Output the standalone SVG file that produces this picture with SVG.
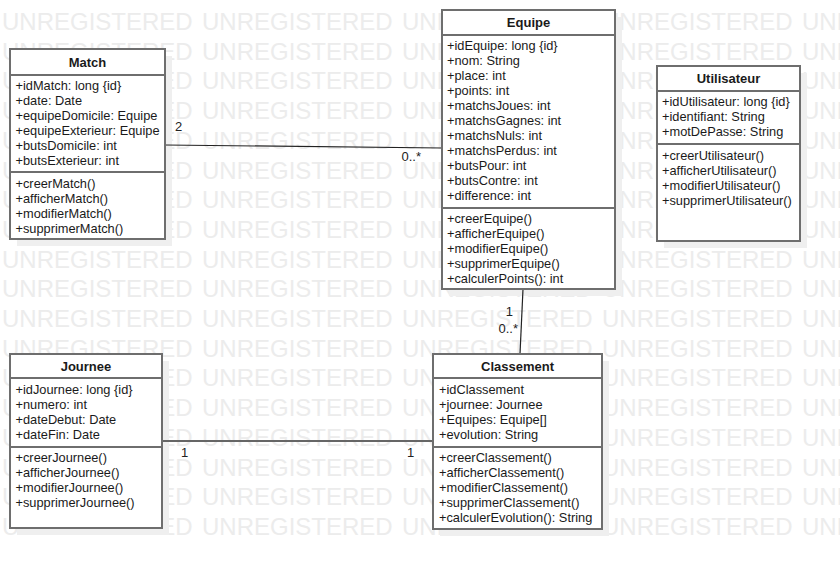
<svg xmlns="http://www.w3.org/2000/svg" width="840" height="569" viewBox="0 0 840 569">
<style>
.wm{font-family:"Liberation Sans",Arial,sans-serif;font-size:24px;fill:#ececec}
.sh{fill:#efefef;stroke:none}
.box{fill:#ffffff;stroke:#6e6e6e;stroke-width:2}
.sep{stroke:#6e6e6e;stroke-width:2}
.t{font-family:"Liberation Sans",Arial,sans-serif;font-size:13px;font-weight:bold;fill:#1a1a1a;text-anchor:middle}
.a{font-family:"Liberation Sans",Arial,sans-serif;font-size:12.8px;fill:#1a1a1a}
.c{fill:none;stroke:#222;stroke-width:1.2}
.c2{fill:none;stroke:#666;stroke-width:2}
.lb{font-family:"Liberation Sans",Arial,sans-serif;font-size:13px;fill:#222}
</style>
<rect width="840" height="569" fill="#ffffff"/>
<g id="watermark" class="wm">
<text y="30"><tspan x="2">UNREGISTERED</tspan><tspan x="202">UNREGISTERED</tspan><tspan x="402">UNREGISTERED</tspan><tspan x="602">UNREGISTERED</tspan><tspan x="802">UNREGISTERED</tspan></text>
<text y="59.7"><tspan x="2">UNREGISTERED</tspan><tspan x="202">UNREGISTERED</tspan><tspan x="402">UNREGISTERED</tspan><tspan x="602">UNREGISTERED</tspan><tspan x="802">UNREGISTERED</tspan></text>
<text y="89.4"><tspan x="2">UNREGISTERED</tspan><tspan x="202">UNREGISTERED</tspan><tspan x="402">UNREGISTERED</tspan><tspan x="602">UNREGISTERED</tspan><tspan x="802">UNREGISTERED</tspan></text>
<text y="119.1"><tspan x="2">UNREGISTERED</tspan><tspan x="202">UNREGISTERED</tspan><tspan x="402">UNREGISTERED</tspan><tspan x="602">UNREGISTERED</tspan><tspan x="802">UNREGISTERED</tspan></text>
<text y="148.8"><tspan x="2">UNREGISTERED</tspan><tspan x="202">UNREGISTERED</tspan><tspan x="402">UNREGISTERED</tspan><tspan x="602">UNREGISTERED</tspan><tspan x="802">UNREGISTERED</tspan></text>
<text y="178.5"><tspan x="2">UNREGISTERED</tspan><tspan x="202">UNREGISTERED</tspan><tspan x="402">UNREGISTERED</tspan><tspan x="602">UNREGISTERED</tspan><tspan x="802">UNREGISTERED</tspan></text>
<text y="208.2"><tspan x="2">UNREGISTERED</tspan><tspan x="202">UNREGISTERED</tspan><tspan x="402">UNREGISTERED</tspan><tspan x="602">UNREGISTERED</tspan><tspan x="802">UNREGISTERED</tspan></text>
<text y="237.9"><tspan x="2">UNREGISTERED</tspan><tspan x="202">UNREGISTERED</tspan><tspan x="402">UNREGISTERED</tspan><tspan x="602">UNREGISTERED</tspan><tspan x="802">UNREGISTERED</tspan></text>
<text y="267.6"><tspan x="2">UNREGISTERED</tspan><tspan x="202">UNREGISTERED</tspan><tspan x="402">UNREGISTERED</tspan><tspan x="602">UNREGISTERED</tspan><tspan x="802">UNREGISTERED</tspan></text>
<text y="297.3"><tspan x="2">UNREGISTERED</tspan><tspan x="202">UNREGISTERED</tspan><tspan x="402">UNREGISTERED</tspan><tspan x="602">UNREGISTERED</tspan><tspan x="802">UNREGISTERED</tspan></text>
<text y="327"><tspan x="2">UNREGISTERED</tspan><tspan x="202">UNREGISTERED</tspan><tspan x="402">UNREGISTERED</tspan><tspan x="602">UNREGISTERED</tspan><tspan x="802">UNREGISTERED</tspan></text>
<text y="356.7"><tspan x="2">UNREGISTERED</tspan><tspan x="202">UNREGISTERED</tspan><tspan x="402">UNREGISTERED</tspan><tspan x="602">UNREGISTERED</tspan><tspan x="802">UNREGISTERED</tspan></text>
<text y="386.4"><tspan x="2">UNREGISTERED</tspan><tspan x="202">UNREGISTERED</tspan><tspan x="402">UNREGISTERED</tspan><tspan x="602">UNREGISTERED</tspan><tspan x="802">UNREGISTERED</tspan></text>
<text y="416.1"><tspan x="2">UNREGISTERED</tspan><tspan x="202">UNREGISTERED</tspan><tspan x="402">UNREGISTERED</tspan><tspan x="602">UNREGISTERED</tspan><tspan x="802">UNREGISTERED</tspan></text>
<text y="445.8"><tspan x="2">UNREGISTERED</tspan><tspan x="202">UNREGISTERED</tspan><tspan x="402">UNREGISTERED</tspan><tspan x="602">UNREGISTERED</tspan><tspan x="802">UNREGISTERED</tspan></text>
<text y="475.5"><tspan x="2">UNREGISTERED</tspan><tspan x="202">UNREGISTERED</tspan><tspan x="402">UNREGISTERED</tspan><tspan x="602">UNREGISTERED</tspan><tspan x="802">UNREGISTERED</tspan></text>
<text y="505.2"><tspan x="2">UNREGISTERED</tspan><tspan x="202">UNREGISTERED</tspan><tspan x="402">UNREGISTERED</tspan><tspan x="602">UNREGISTERED</tspan><tspan x="802">UNREGISTERED</tspan></text>
<text y="534.9"><tspan x="2">UNREGISTERED</tspan><tspan x="202">UNREGISTERED</tspan><tspan x="402">UNREGISTERED</tspan><tspan x="602">UNREGISTERED</tspan><tspan x="802">UNREGISTERED</tspan></text>
</g>
<g id="shadows">
<rect class="sh" x="17" y="56" width="155" height="190"/>
<rect class="sh" x="449" y="17" width="173" height="279"/>
<rect class="sh" x="664" y="73" width="143" height="175"/>
<rect class="sh" x="17" y="361" width="152" height="174"/>
<rect class="sh" x="440" y="361" width="169" height="175"/>
</g>
<g id="connectors">
<line class="c" x1="165" y1="145" x2="442" y2="148"/>
<line class="c" x1="523" y1="289" x2="520" y2="354"/>
<line class="c2" x1="162" y1="441" x2="433" y2="441"/>
<text class="lb" x="175" y="131">2</text>
<text class="lb" x="421" y="161" text-anchor="end">0..*</text>
<text class="lb" x="513" y="316" text-anchor="end">1</text>
<text class="lb" x="518" y="333" text-anchor="end">0..*</text>
<text class="lb" x="181" y="457">1</text>
<text class="lb" x="407" y="457">1</text>
</g>
<g id="Match">
<rect class="box" x="10" y="49" width="155" height="190"/>
<line class="sep" x1="10" y1="75" x2="165" y2="75"/>
<line class="sep" x1="10" y1="172" x2="165" y2="172"/>
<text class="t" x="87.5" y="66.5">Match</text>
<text class="a" x="15.5" y="90">+idMatch: long {id}</text>
<text class="a" x="15.5" y="105">+date: Date</text>
<text class="a" x="15.5" y="120">+equipeDomicile: Equipe</text>
<text class="a" x="15.5" y="135">+equipeExterieur: Equipe</text>
<text class="a" x="15.5" y="150">+butsDomicile: int</text>
<text class="a" x="15.5" y="165">+butsExterieur: int</text>
<text class="a" x="15.5" y="187.5">+creerMatch()</text>
<text class="a" x="15.5" y="202.5">+afficherMatch()</text>
<text class="a" x="15.5" y="217.5">+modifierMatch()</text>
<text class="a" x="15.5" y="232.5">+supprimerMatch()</text>
</g>
<g id="Equipe">
<rect class="box" x="442" y="10" width="173" height="279"/>
<line class="sep" x1="442" y1="35" x2="615" y2="35"/>
<line class="sep" x1="442" y1="208" x2="615" y2="208"/>
<text class="t" x="528.5" y="27">Equipe</text>
<text class="a" x="447" y="50">+idEquipe: long {id}</text>
<text class="a" x="447" y="65">+nom: String</text>
<text class="a" x="447" y="80">+place: int</text>
<text class="a" x="447" y="95">+points: int</text>
<text class="a" x="447" y="110">+matchsJoues: int</text>
<text class="a" x="447" y="125">+matchsGagnes: int</text>
<text class="a" x="447" y="140">+matchsNuls: int</text>
<text class="a" x="447" y="155">+matchsPerdus: int</text>
<text class="a" x="447" y="170">+butsPour: int</text>
<text class="a" x="447" y="185">+butsContre: int</text>
<text class="a" x="447" y="200">+difference: int</text>
<text class="a" x="447" y="223">+creerEquipe()</text>
<text class="a" x="447" y="238">+afficherEquipe()</text>
<text class="a" x="447" y="253">+modifierEquipe()</text>
<text class="a" x="447" y="268">+supprimerEquipe()</text>
<text class="a" x="447" y="283">+calculerPoints(): int</text>
</g>
<g id="Utilisateur">
<rect class="box" x="657" y="66" width="143" height="175"/>
<line class="sep" x1="657" y1="91" x2="800" y2="91"/>
<line class="sep" x1="657" y1="144" x2="800" y2="144"/>
<text class="t" x="728.5" y="83">Utilisateur</text>
<text class="a" x="662" y="106">+idUtilisateur: long {id}</text>
<text class="a" x="662" y="121">+identifiant: String</text>
<text class="a" x="662" y="136">+motDePasse: String</text>
<text class="a" x="662" y="160">+creerUtilisateur()</text>
<text class="a" x="662" y="175">+afficherUtilisateur()</text>
<text class="a" x="662" y="190">+modifierUtilisateur()</text>
<text class="a" x="662" y="205">+supprimerUtilisateur()</text>
</g>
<g id="Journee">
<rect class="box" x="10" y="354" width="152" height="174"/>
<line class="sep" x1="10" y1="378" x2="162" y2="378"/>
<line class="sep" x1="10" y1="447" x2="162" y2="447"/>
<text class="t" x="86" y="371">Journee</text>
<text class="a" x="15.5" y="394">+idJournee: long {id}</text>
<text class="a" x="15.5" y="409">+numero: int</text>
<text class="a" x="15.5" y="424">+dateDebut: Date</text>
<text class="a" x="15.5" y="439">+dateFin: Date</text>
<text class="a" x="15.5" y="462">+creerJournee()</text>
<text class="a" x="15.5" y="477">+afficherJournee()</text>
<text class="a" x="15.5" y="492">+modifierJournee()</text>
<text class="a" x="15.5" y="507">+supprimerJournee()</text>
</g>
<g id="Classement">
<rect class="box" x="433" y="354" width="169" height="175"/>
<line class="sep" x1="433" y1="378" x2="602" y2="378"/>
<line class="sep" x1="433" y1="447" x2="602" y2="447"/>
<text class="t" x="517.5" y="371">Classement</text>
<text class="a" x="439" y="394">+idClassement</text>
<text class="a" x="439" y="409">+journee: Journee</text>
<text class="a" x="439" y="424">+Equipes: Equipe[]</text>
<text class="a" x="439" y="439">+evolution: String</text>
<text class="a" x="439" y="462">+creerClassement()</text>
<text class="a" x="439" y="477">+afficherClassement()</text>
<text class="a" x="439" y="492">+modifierClassement()</text>
<text class="a" x="439" y="507">+supprimerClassement()</text>
<text class="a" x="439" y="522">+calculerEvolution(): String</text>
</g>
</svg>
